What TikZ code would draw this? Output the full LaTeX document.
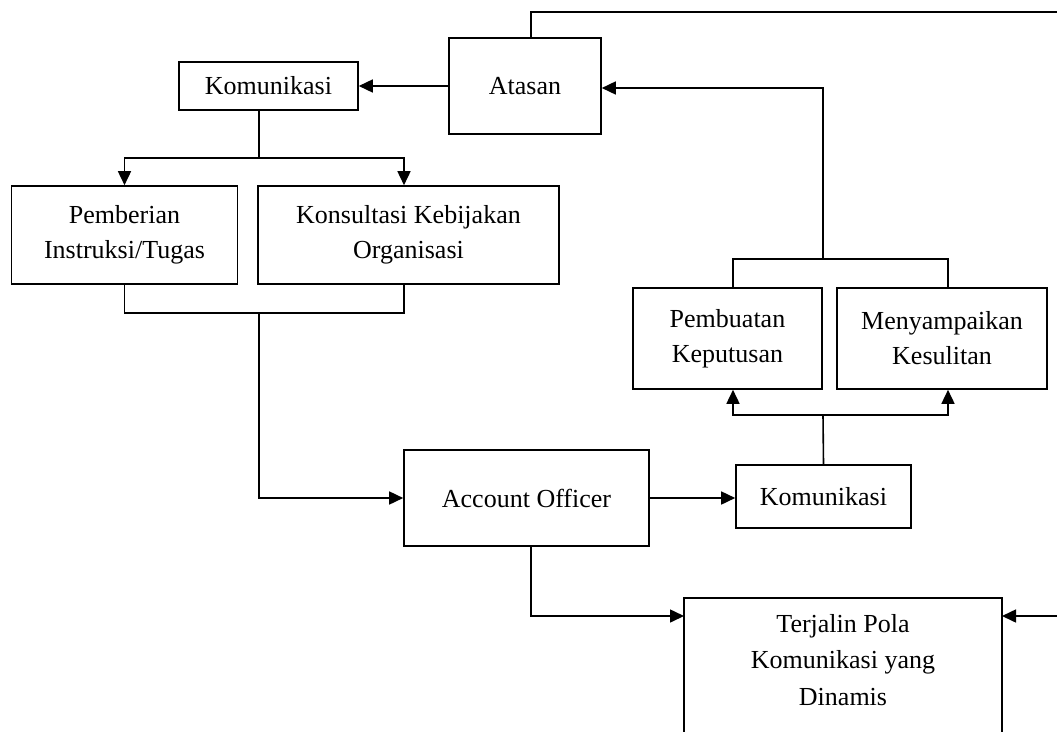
\documentclass[tikz,border=0pt]{standalone}
\usepackage{fontspec}
\setmainfont{Liberation Serif}
\usetikzlibrary{arrows.meta,calc}
\begin{document}
\begin{tikzpicture}[x=1pt,y=-1pt,
  box/.style={draw,line width=1.6pt,inner sep=0pt,align=center,
    font=\fontsize{26}{35}\selectfont},
  txt/.style={inner sep=0pt,align=center,font=\fontsize{26}{36.5}\selectfont},
  link/.style={line width=1.6pt},
  arr/.style={link,-{Triangle[length=14pt,width=13pt]}}]
\useasboundingbox (0,0) rectangle (1057,731);
\clip (0,0) rectangle (1057,731);
% boxes
\node[box,minimum width=152,minimum height=96] (atasan) at (525,86) {Atasan};
\node[box,minimum width=179,minimum height=48] (kom1) at (268.5,86) {Komunikasi};
\node[box,minimum width=226,minimum height=98] (pemb) at (124.5,235) {Pemberian\\Instruksi/Tugas};
\node[box,minimum width=301,minimum height=98] (kons) at (408.5,235) {Konsultasi Kebijakan\\Organisasi};
\node[box,minimum width=245,minimum height=96] (ao) at (526.5,498) {Account Officer};
\node[box,minimum width=175,minimum height=63] (kom2) at (823.5,496.5) {Komunikasi};
\node[box,minimum width=189,minimum height=101] (pbt) at (727.5,338.5) {Pembuatan\\Keputusan};
\node[box,minimum width=210,minimum height=101] (meny) at (942,338.5) {Menyampaikan\\Kesulitan};
\node[box,minimum width=318,minimum height=170,anchor=north] (terj) at (843,597) {};
\node[txt] (terjtext) at (843,660) {Terjalin Pola\\Komunikasi yang\\Dinamis};
% junction points
\coordinate (topR) at (1057,12);
\coordinate (jt) at (823,259);
\coordinate (jb) at (823,415);
\coordinate (jk) at (259,158);
\coordinate (jl) at (259,313);
\coordinate (terjW) at (684,616);
\coordinate (terjE) at (1002,616);
\coordinate (inR) at (1057,616);
% connectors
\draw[link] ([xshift=6]atasan.north) |- (topR);
\draw[arr] (atasan.west) -- (kom1.east);
\draw[link] ([xshift=-9.5]kom1.south) -- (jk);
\draw[arr] (jk) -| (pemb.north);
\draw[arr] (jk) -| ([xshift=-4.5]kons.north);
\draw[link] (pemb.south) |- (jl) -| ([xshift=-4.5]kons.south);
\draw[arr] (jl) |- (ao.west);
\draw[arr] (ao.east) -- (ao.east -| kom2.west);
\draw[link] (kom2.north) -- (jb);
\draw[arr] (jb) -| ([xshift=5.5]pbt.south);
\draw[arr] (jb) -| ([xshift=6]meny.south);
\draw[link] ([xshift=5.5]pbt.north) |- (jt) -| ([xshift=6]meny.north);
\draw[arr] (jt) |- ([yshift=-2]atasan.east);
\draw[arr] ([xshift=4.5]ao.south) |- (terjW);
\draw[arr] (inR) -- (terjE);
\end{tikzpicture}
\end{document}
